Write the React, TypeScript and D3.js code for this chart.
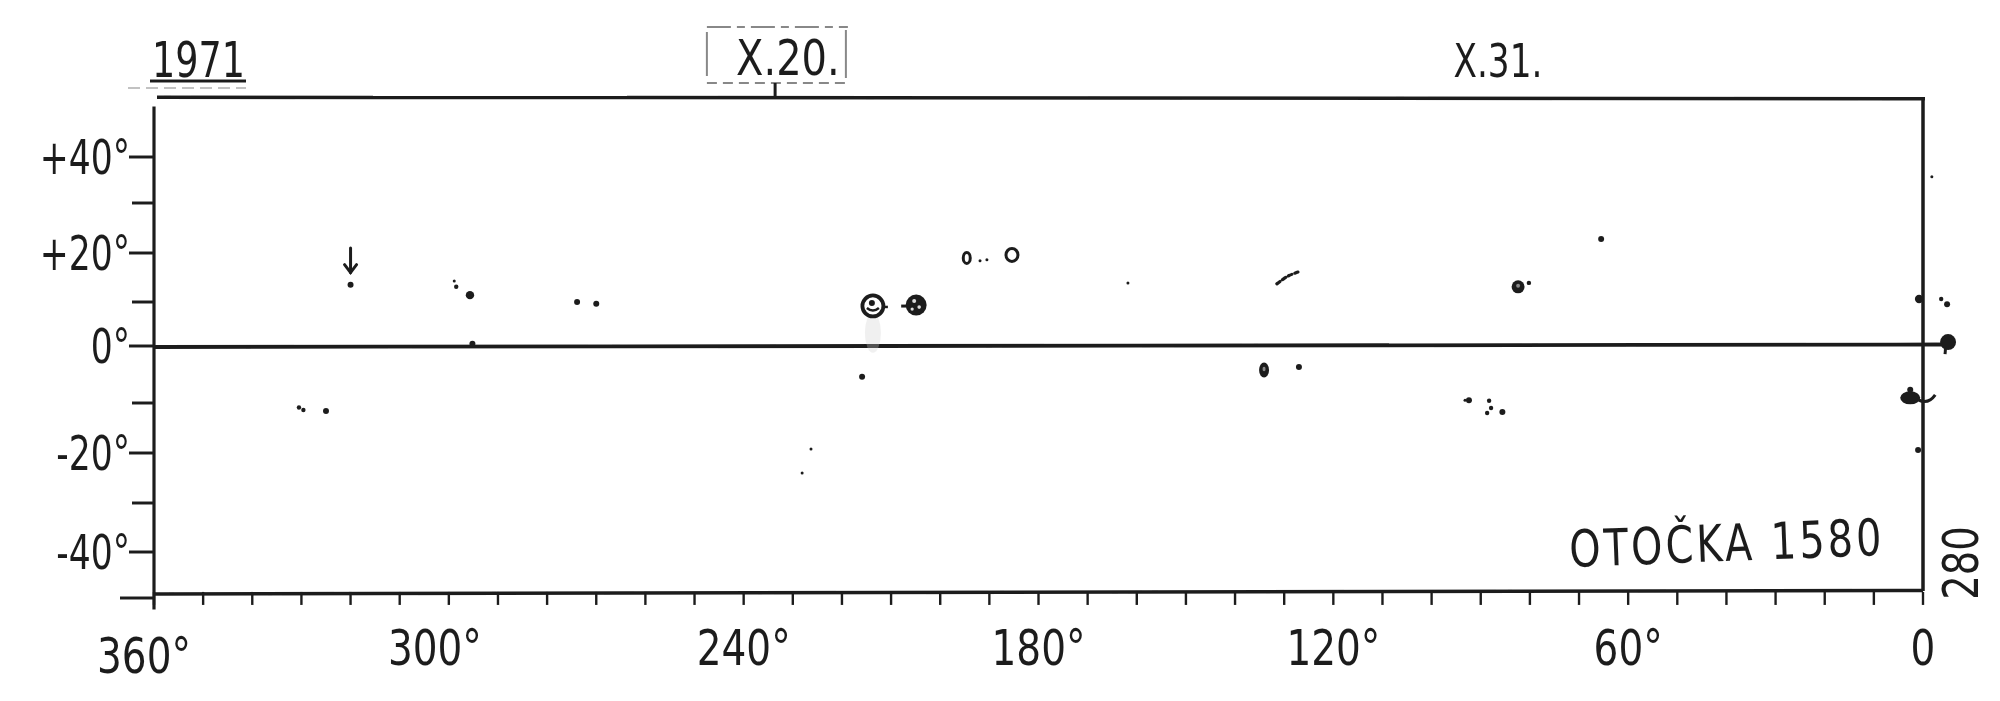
import React from "react";
import * as d3 from "d3";

// ---- data ----
const xTickValues = [360, 300, 240, 180, 120, 60, 0];
const xTickLabels = ["360°", "300°", "240°", "180°", "120°", "60°", "0"];
const yTickValues = [40, 20, 0, -20, -40];
const yTickLabels = ["+40°", "+20°", "0°", "-20°", "-40°"];
const yMinorValues = [30, 10, -10, -30, -50];

const dateLabels = ["X.20.", "X.31."];
const dateLon = [231, 86.5];
const dateTickLon = [233.6];

// spots: longitude (deg), latitude (deg), size class
const spotLon = [320, 298.9, 298.5, 295.7, 273.9, 270.0, 215.9, 226.3, 228.1, 161.8, 191.9, 190.5, 127.0, 80.2, 65.5, 93.2, 92.4, 88.3, 87.9, 88.7, 85.6, 330.5, 329.6, 325.0, 0.8, -3.7, -4.9, 1.0, -1.8, 295.2];
const spotLat = [13.5, 14.3, 13.1, 11.4, 10.0, 9.6, -5.4, -19.2, -24.0, 13.9, 18.4, 18.6, -3.7, 13.9, 22.8, -9.5, -9.5, -9.6, -11.0, -12.0, -11.8, -10.9, -11.4, -11.6, 10.6, 10.6, 9.5, -19.4, 35.7, 0.5];
const spotClass = ["pore", "speck", "small", "spot", "pore", "pore", "pore", "speck", "speck", "speck", "speck", "speck", "pore", "small", "pore", "speck", "pore", "small", "small", "small", "pore", "small", "small", "pore", "spot", "small", "pore", "pore", "speck", "pore"];

// spots with umbra (dark ellipse, light core)
const umbraLon = [134.1, 82.4];
const umbraLat = [-4.2, 13.1];
const umbraClass = ["oval", "round"];

// open rings
const ringLon = [194.6, 185.4];
const ringLat = [19.0, 19.6];
const ringClass = ["small", "medium"];

// large circled groups
const circledLon = [213.7, 205.1];
const circledLat = [9.1, 9.3];
const circledKind = ["cross", "spotted"];

// arrow marker
const arrowLon = [320];
const arrowLatTop = [21];
const arrowLatBottom = [16];

// chain of small spots
const chainLon = [131.5, 130.3, 129.0, 127.2];
const chainLat = [13.7, 14.6, 15.4, 16.1];

// marks beside the right edge
const blobLon = [-5.1];
const blobLat = [0.9];
const hookLon = [2.6];
const hookLat = [-9.1];

const INK = "#1e1e1e";
const FONT = "'DejaVu Sans', sans-serif";

const spotR: Record<string, number> = { speck: 1.5, small: 2.2, pore: 3, spot: 4.2 };
const ringR: Record<string, [number, number]> = { small: [3.5, 5.5], medium: [6, 6.5] };
const umbraR: Record<string, [number, number]> = { oval: [5, 7.5], round: [6.5, 6.5] };

function NText(props: {
  x: number;
  y: number;
  sx: number;
  size: number;
  anchor?: string;
  rotate?: number;
  spacing?: number;
  children: React.ReactNode;
}) {
  const { x, y, sx, size, anchor = "start", rotate = 0, spacing = 0, children } = props;
  return (
    <text
      transform={`translate(${x},${y}) rotate(${rotate}) scale(${sx},1)`}
      textAnchor={anchor}
      fontFamily={FONT}
      fontSize={size}
      letterSpacing={spacing}
      fill={INK}
    >
      {children}
    </text>
  );
}

export default function App() {
  const W = 2000;
  const H = 701;
  const x = d3.scaleLinear().domain([360, 0]).range([154, 1923]);
  const y = d3
    .scaleLinear()
    .domain([-50, -40, -30, -20, -10, 0, 10, 20, 30, 40])
    .range([598, 552, 503, 453, 403, 346, 302, 253, 203, 157]);

  const xMinor = d3.range(360, -1, -10);
  const top = y(53);
  const bottom = y(-48.9);
  const chainPath = d3
    .line<number>()
    .x((_, i) => x(chainLon[i]))
    .y((_, i) => y(chainLat[i]))
    .curve(d3.curveCatmullRom)(chainLon);

  return (
    <svg
      width={W}
      height={H}
      viewBox={`0 0 ${W} ${H}`}
      style={{ position: "fixed", left: 0, top: 0, background: "#fff" }}
    >
      <defs>
        <filter id="soft" x="-5%" y="-5%" width="110%" height="110%">
          <feGaussianBlur stdDeviation="0.55" />
        </filter>
      </defs>
      <rect x={0} y={0} width={W} height={H} fill="#fff" />
      <g filter="url(#soft)">
        {/* frame */}
        <line x1={157} x2={x(0) + 2} y1={top} y2={top + 1.5} stroke={INK} strokeWidth={3.5} />
        <line x1={x(360)} x2={x(360)} y1={y(51)} y2={y(-52.5)} stroke={INK} strokeWidth={3.2} />
        <line x1={x(0)} x2={x(0)} y1={top} y2={bottom - 2} stroke={INK} strokeWidth={3.5} />
        <line x1={x(360)} x2={x(0)} y1={bottom + 1} y2={bottom - 2.5} stroke={INK} strokeWidth={3.5} />
        {/* zero line */}
        <line x1={x(360)} x2={x(-4.5)} y1={y(0) + 1} y2={y(0) - 1.5} stroke={INK} strokeWidth={3.8} />

        {/* y ticks */}
        {yTickValues.map((v) => (
          <line key={"yt" + v} x1={x(360) - 25} x2={x(360)} y1={y(v)} y2={y(v)} stroke={INK} strokeWidth={3} />
        ))}
        {yMinorValues.map((v) => (
          <line key={"ym" + v} x1={x(360) - (v === -50 ? 34 : 22)} x2={x(360)} y1={y(v)} y2={y(v)} stroke={INK} strokeWidth={3} />
        ))}
        {yTickValues.map((v, i) => (
          <NText key={"yl" + v} x={x(360) - 24} y={y(v) + 17} sx={0.72} size={48} anchor="end">
            {yTickLabels[i]}
          </NText>
        ))}

        {/* x ticks */}
        {xMinor.map((v) => (
          <line key={"xt" + v} x1={x(v)} x2={x(v)} y1={bottom - 1} y2={bottom + 12} stroke={INK} strokeWidth={2.4} />
        ))}
        {xTickValues.map((v, i) => (
          <NText
            key={"xl" + v}
            x={x(v) + (i === 0 ? -10 : i === 1 ? -14 : 0)}
            y={i === 0 ? 673 : 665}
            sx={0.78}
            size={50}
            anchor="middle"
          >
            {xTickLabels[i]}
          </NText>
        ))}

        {/* headings */}
        <NText x={152} y={77} sx={0.73} size={50}>
          1971
        </NText>
        <line x1={150} x2={246} y1={81} y2={81} stroke={INK} strokeWidth={3} />
        <line x1={128} x2={246} y1={88} y2={88} stroke="#999" strokeWidth={2} strokeDasharray="12 6" opacity={0.6} />

        {dateLabels.map((lab, i) => (
          <NText
            key={lab}
            x={x(dateLon[i])}
            y={i === 0 ? 75 : 77}
            sx={i === 0 ? 0.8 : 0.73}
            size={i === 0 ? 50 : 47}
            anchor="middle"
          >
            {lab}
          </NText>
        ))}
        <g stroke="#888" strokeWidth={2} fill="none">
          <line x1={x(dateLon[0]) - 81} x2={x(dateLon[0]) + 60} y1={27} y2={27} strokeDasharray="24 6 8 6" />
          <line x1={x(dateLon[0]) - 81} x2={x(dateLon[0]) + 60} y1={83} y2={83} strokeDasharray="10 6" />
          <line x1={x(dateLon[0]) - 81} x2={x(dateLon[0]) - 81} y1={32} y2={76} />
          <line x1={x(dateLon[0]) + 58} x2={x(dateLon[0]) + 58} y1={30} y2={78} />
        </g>
        {dateTickLon.map((v) => (
          <line key={"dt" + v} x1={x(v)} x2={x(v)} y1={83} y2={top} stroke={INK} strokeWidth={3} />
        ))}

        <NText x={1570} y={567} sx={0.78} size={51} rotate={-2.2} spacing={4}>
          OTOČKA 1580
        </NText>
        <NText x={1978} y={563} sx={0.77} size={50} rotate={-90} anchor="middle">
          280
        </NText>

        {/* faint smudge under the large circled group */}
        <ellipse cx={x(circledLon[0])} cy={y(3)} rx={8} ry={20} fill="#ccc" opacity={0.3} />

        {/* arrow */}
        {arrowLon.map((v, i) => {
          const ax = x(v);
          const y1 = y(arrowLatTop[i]);
          const y2 = y(arrowLatBottom[i]);
          return (
            <g key={"ar" + i} stroke={INK} strokeWidth={3} fill="none" strokeLinecap="round">
              <line x1={ax} x2={ax} y1={y1} y2={y2} />
              <polyline points={`${ax - 6},${y2 - 8} ${ax},${y2} ${ax + 6},${y2 - 8}`} />
            </g>
          );
        })}

        {/* spots */}
        {spotLon.map((v, i) => (
          <circle key={"s" + i} cx={x(v)} cy={y(spotLat[i])} r={spotR[spotClass[i]]} fill={INK} />
        ))}

        {/* umbra spots */}
        {umbraLon.map((v, i) => {
          const [rx, ry] = umbraR[umbraClass[i]];
          return (
            <g key={"u" + i}>
              <ellipse cx={x(v)} cy={y(umbraLat[i])} rx={rx} ry={ry} fill={INK} />
              <ellipse cx={x(v)} cy={y(umbraLat[i]) - 1} rx={rx * 0.3} ry={ry * 0.3} fill="#888" />
            </g>
          );
        })}

        {/* rings */}
        {ringLon.map((v, i) => {
          const [rx, ry] = ringR[ringClass[i]];
          return (
            <ellipse key={"r" + i} cx={x(v)} cy={y(ringLat[i])} rx={rx} ry={ry} fill="#fff" stroke={INK} strokeWidth={3} />
          );
        })}

        {/* circled groups */}
        {circledLon.map((v, i) => {
          const cx = x(v);
          const cy = y(circledLat[i]);
          return circledKind[i] === "cross" ? (
            <g key={"c" + i}>
              <circle cx={cx} cy={cy} r={10.5} fill="#fff" stroke={INK} strokeWidth={3.8} />
              <path d={`M${cx - 6},${cy + 2} Q${cx},${cy + 7} ${cx + 6},${cy + 2}`} stroke={INK} strokeWidth={2.5} fill="none" />
              <circle cx={cx - 1} cy={cy - 3} r={3} fill={INK} />
              <line x1={cx + 9} x2={cx + 15} y1={cy + 1} y2={cy + 1} stroke={INK} strokeWidth={2.5} />
            </g>
          ) : (
            <g key={"c" + i}>
              <circle cx={cx + 1} cy={cy} r={10.5} fill={INK} />
              <circle cx={cx - 1} cy={cy - 4} r={2} fill="#ddd" />
              <circle cx={cx + 4} cy={cy + 2} r={1.8} fill="#ddd" />
              <circle cx={cx - 3} cy={cy + 4} r={1.6} fill="#ddd" />
              <line x1={cx - 14} x2={cx - 8} y1={cy + 1} y2={cy + 1} stroke={INK} strokeWidth={3} />
            </g>
          );
        })}

        {/* chain */}
        {chainPath && (
          <path d={chainPath} fill="none" stroke={INK} strokeWidth={3.2} strokeDasharray="4 3" strokeLinecap="round" />
        )}

        {/* right-edge marks */}
        {blobLon.map((v, i) => (
          <g key={"b" + i}>
            <ellipse cx={x(v)} cy={y(blobLat[i])} rx={8} ry={8} fill={INK} />
            <line x1={x(v) - 2} x2={x(v) - 3} y1={y(blobLat[i])} y2={y(blobLat[i]) + 12} stroke={INK} strokeWidth={3} />
          </g>
        ))}
        {hookLon.map((v, i) => {
          const hx = x(v);
          const hy = y(hookLat[i]);
          return (
            <g key={"h" + i}>
              <ellipse cx={hx} cy={hy} rx={10} ry={6.5} fill={INK} />
              <circle cx={hx} cy={hy - 8} r={3} fill={INK} />
              <path d={`M${hx + 8},${hy + 2} Q${hx + 18},${hy + 7} ${hx + 25},${hy - 3}`} fill="none" stroke={INK} strokeWidth={3} />
            </g>
          );
        })}
      </g>
    </svg>
  );
}
